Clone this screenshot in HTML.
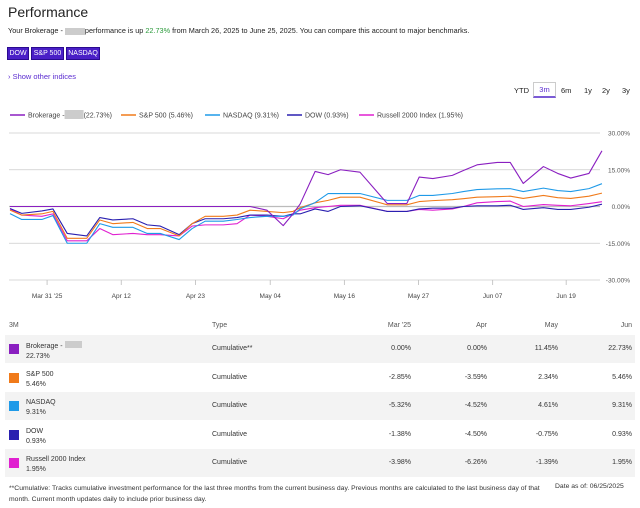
<!DOCTYPE html>
<html><head><meta charset="utf-8"><style>
*{margin:0;padding:0;box-sizing:border-box}
body{width:640px;height:508px;background:#fff;font-family:"Liberation Sans",sans-serif;color:#222;position:relative;overflow:hidden}
.a{position:absolute;white-space:nowrap}
.btn{position:absolute;top:47px;height:13px;background:#4a1fc7;color:#fff;font-size:7px;line-height:11px;text-align:center;border:1px solid #2a0a90;overflow:hidden}
.tf{position:absolute;top:86px;font-size:7.5px;color:#222}
.row{position:absolute;left:5px;width:630px;height:28px;font-size:7px;color:#333}
.row.g{background:#f3f3f3}
.sw{position:absolute;left:4px;top:9px;width:10px;height:10px}
.row .n{position:absolute;left:21px;top:6px;line-height:10px}
.row .t{position:absolute;left:207px;top:10px}
.row .v{position:absolute;top:10px;text-align:right}
</style></head><body>
<div class="a" style="left:8px;top:4px;font-size:14px;color:#222">Performance</div>
<div class="a" style="left:8px;top:26px;font-size:7.3px">Your Brokerage - <span style="display:inline-block;width:20px;height:7px;background:#ccc;vertical-align:middle"></span>performance is up <span style="color:#2a9a3a">22.73%</span> from March 26, 2025 to June 25, 2025. You can compare this account to major benchmarks.</div>
<div class="btn" style="left:7px;width:22px">DOW</div>
<div class="btn" style="left:31px;width:33px">S&amp;P 500</div>
<div class="btn" style="left:66px;width:34px">NASDAQ</div>
<div class="a" style="left:8px;top:72px;font-size:7.5px;color:#5a2bd0">› Show other indices</div>
<div class="tf" style="left:514px">YTD</div>
<div class="a" style="left:533px;top:82px;width:23px;height:16px;border:1px solid #ccc;border-bottom:2px solid #7b5bd6;font-size:7.5px;color:#5a2bd0;text-align:center;line-height:13px">3m</div>
<div class="tf" style="left:561px">6m</div>
<div class="tf" style="left:584px">1y</div>
<div class="tf" style="left:602px">2y</div>
<div class="tf" style="left:622px">3y</div>

<svg id="chart" class="a" style="left:0;top:0" width="640" height="310" font-family="Liberation Sans, sans-serif"></svg>

<div class="a" style="left:0;top:322px;width:640px;font-size:7px;color:#555">
<span class="a" style="left:9px">3M</span><span class="a" style="left:212px">Type</span>
<span class="a" style="left:370px;width:41px;text-align:right">Mar '25</span><span class="a" style="left:446px;width:41px;text-align:right">Apr</span>
<span class="a" style="left:517px;width:41px;text-align:right">May</span><span class="a" style="left:591px;width:41px;text-align:right">Jun</span></div>
<div id="table"></div>
<div class="a" style="left:9px;top:483px;font-size:6.8px;line-height:11px;color:#333;white-space:normal;width:535px">**Cumulative: Tracks cumulative investment performance for the last three months from the current business day. Previous months are calculated to the last business day of that month. Current month updates daily to include prior business day.</div>
<div class="a" style="left:555px;top:483px;font-size:6.8px;color:#333">Date as of: 06/25/2025</div>
<script>
const days=[0,1.8,4.9,6.6,8.8,11.8,13.8,15.8,18.9,21.1,23.1,26,28,30,32.8,34.9,36.9,39.5,42,43.5,44.6,46.9,48.9,50.8,53.8,58,61,62.9,65,68,69.7,71.8,74.9,76.9,78.9,82,84.2,86.2,89,91];
const brokerage=[0,0,0,0,0,0,0,0,0,0,0,0,0,0,0,0,0,-1.5,-7.8,-3,1,14.3,13,15,14,1.2,1.2,12,11.4,12.7,14.7,17,18,18,9.4,16.3,13.5,11.6,13.5,22.73];
const nasdaq=[-2.9,-5.3,-5.3,-3.7,-15,-15,-7,-8.5,-8.5,-11,-11,-13.5,-9,-6,-6,-5.3,-4.5,-4,-4,-3.5,-1,1.6,5.3,5.3,5.3,2.5,2.5,4.5,4.5,5.3,6.1,6.9,7.2,7.3,6.1,7.5,6.5,6.1,7.3,9.31];
const sp500=[-1.5,-3.5,-3,-2,-13,-13,-5.5,-7,-6.5,-9,-9,-12,-7,-4,-4,-3.5,-1.5,-2,-2.5,-2,-0.5,1.5,2.5,3.8,3.8,0.7,0.7,2,2.4,2.8,3.2,3.8,4,4.2,3.3,4.5,3.6,3.3,4.2,5.46];
const dow=[-0.8,-2.8,-1.8,-1,-11,-12,-4.5,-5.5,-5,-7.5,-8,-11.5,-7,-5,-5,-4.5,-3.5,-3.5,-4,-3,-3,-1,-2,0,0.3,-2,-2,-1,-0.7,-0.7,0,0.3,0.3,0.5,-1.2,-0.5,-1.2,-1.2,-0.3,0.93];
const russell=[-1,-3.5,-4,-3,-14,-14,-9,-11.5,-11,-11.5,-11.5,-12,-8,-7.5,-7.5,-7,-3.5,-4,-5,-3,-1.5,-0.5,0,0.5,0.5,-2,-2,-1.2,-1.5,-1,0,1.5,2,2.2,0,0.8,0.5,0.3,1.2,1.95];
const yTicks=[30,15,0,-15,-30];
const yTickLabels=["30.00%","15.00%","0.00%","-15.00%","-30.00%"];
const xTickDays=[5.7,17.1,28.5,40,51.4,62.8,74.2,85.5];
const xTickLabels=["Mar 31 '25","Apr 12","Apr 23","May 04","May 16","May 27","Jun 07","Jun 19"];
const seriesNames=["Brokerage - ","S&P 500","NASDAQ","DOW","Russell 2000 Index"];
const seriesTotals=["22.73%","5.46%","9.31%","0.93%","1.95%"];
const colors=["#8a1fc0","#f07a1a","#1f9ae8","#2a20b0","#e020d0"];
const tableMar=["0.00%","-2.85%","-5.32%","-1.38%","-3.98%"];
const tableApr=["0.00%","-3.59%","-4.52%","-4.50%","-6.26%"];
const tableMay=["11.45%","2.34%","4.61%","-0.75%","-1.39%"];
const tableJun=["22.73%","5.46%","9.31%","0.93%","1.95%"];
const NS="http://www.w3.org/2000/svg",svg=document.getElementById('chart');
const x=d=>10+d*6.505, y=v=>206.5-v*(73.5/30);
function mk(t,a,p){const e=document.createElementNS(NS,t);for(const k in a)e.setAttribute(k,a[k]);(p||svg).appendChild(e);return e;}
yTicks.forEach((v,i)=>{const l=mk('line',{x1:9,x2:600,y1:y(v),y2:y(v),stroke:v===0?'#bbb':'#ccc','stroke-width':v===0?1.3:0.8});


const t=mk('text',{x:630,y:y(v)+2.5,'font-size':6.5,fill:'#555','text-anchor':'end'});t.textContent=yTickLabels[i];

});
xTickDays.forEach((d,i)=>{const l=mk('line',{x1:x(d),x2:x(d),y1:y(-30),y2:y(-30)+5,stroke:'#bbb','stroke-width':0.8});


const t=mk('text',{x:x(d),y:298,'font-size':6.5,fill:'#444','text-anchor':'middle'});t.textContent=xTickLabels[i];

});
const all=[brokerage,sp500,nasdaq,dow,russell];
[4,3,1,2,0].forEach(i=>{const p=mk('polyline',{points:days.map((d,j)=>x(d)+','+y(all[i][j])).join(' '),fill:'none',stroke:colors[i],'stroke-width':1.1,'stroke-linejoin':'round'});

});
const lx=[10,121,205,287,359];
seriesNames.forEach((n,i)=>{const g=mk('g',{});


mk('line',{x1:lx[i],x2:lx[i]+15,y1:115,y2:115,stroke:colors[i],'stroke-width':1.5},g);
const t=mk('text',{x:lx[i]+18,y:117.5,'font-size':7,fill:'#444'},g);
if(i===0){t.textContent=n;const bx=lx[i]+18+t.getComputedTextLength();mk('rect',{x:bx,y:110,width:19,height:9,fill:'#ccc'},g);
const t2=mk('text',{x:bx+19,y:117.5,'font-size':7,fill:'#444'},g);t2.textContent='('+seriesTotals[i]+')';}
else t.textContent=n+' ('+seriesTotals[i]+')';});
const tb=document.getElementById('table');
seriesNames.forEach((n,i)=>{const r=document.createElement('div');r.className='row'+(i%2===0?' g':'');r.style.top=(335+i*28.5)+'px';


const nm=i===0?'Brokerage - <span style="display:inline-block;width:17px;height:7px;background:#ccc"></span>':n.replace('&','&amp;');
r.innerHTML='<div class="sw" style="background:'+colors[i]+'"></div><div class="n">'+nm+'<br>'+seriesTotals[i]+'</div><div class="t">'+(i===0?'Cumulative**':'Cumulative')+'</div>'+
'<div class="v" style="left:365px;width:41px">'+tableMar[i]+'</div><div class="v" style="left:441px;width:41px">'+tableApr[i]+'</div><div class="v" style="left:512px;width:41px">'+tableMay[i]+'</div><div class="v" style="left:586px;width:41px">'+tableJun[i]+'</div>';
tb.appendChild(r);});
</script>
</body></html>
